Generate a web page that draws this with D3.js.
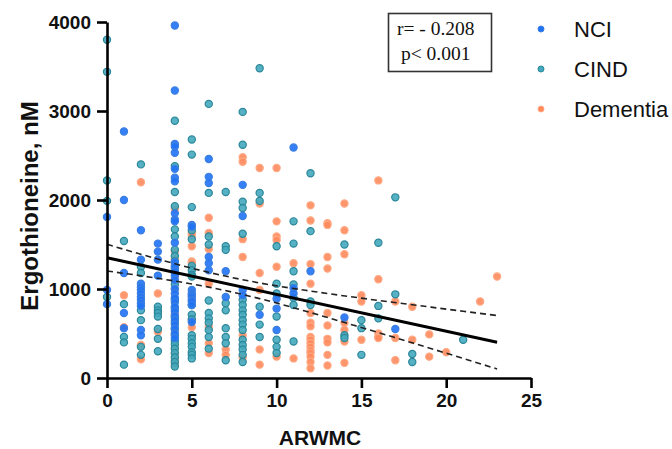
<!DOCTYPE html>
<html>
<head>
<meta charset="utf-8">
<script src="https://cdn.jsdelivr.net/npm/d3@7"></script>
<style>
  body { margin: 0; background: #fff; }
  .axis path, .axis line { stroke: #000; stroke-width: 2.6; }
  .axis text { font-family: "Liberation Sans", Arial, sans-serif; font-weight: bold; font-size: 19px; fill: #111; }
</style>
</head>
<body>
<div id="plots"></div>
<script>
// chart size
var width = 672;
var height = 449;

// ARWMC score (x) -> ergothioneine values (y), one entry per column
var nci = [
  [0, [1810, 990, 830]],
  [1, [2770, 2000, 1180, 730, 560]],
  [2, [1660, 1330, 1060, 1020, 990, 950, 910, 880, 840, 810, 540, 480]],
  [3, [1510, 1420, 1330, 1150]],
  [4, [3960, 3230, 2630, 2600, 2530, 2350, 2250, 2210, 1850, 1780, 1760, 1520, 1300, 1250, 1200, 1150, 1100, 1000, 950, 900, 850, 800, 750, 700, 650, 600, 550, 500, 450]],
  [5, [1720, 1700, 990, 950, 930, 910, 880, 860, 820, 630]],
  [6, [2460, 2260, 2190, 1360, 1290, 1210]],
  [7, [1200, 910]],
  [8, [2170, 1820, 990, 930]],
  [9, [710]],
  [10, [890, 780, 540]],
  [11, [2590, 1010, 950]],
  [12, [1200]],
  [14, [680]],
  [17, [550]]
];

var cind = [
  [0, [3800, 3440, 2220, 1990, 910]],
  [1, [1540, 830, 460, 400, 150]],
  [2, [2400, 1250, 1180, 760, 650, 350, 260]],
  [3, [800, 760, 730, 690, 550, 440, 300]],
  [4, [2890, 2380, 2090, 1930, 1670, 1590, 1440, 1370, 1310, 1230, 1180, 1050, 880, 780, 680, 620, 560, 480, 420, 380, 330, 280, 230, 180, 130]],
  [5, [2680, 2510, 1920, 1660, 1560, 1260, 1210, 1160, 1140, 820, 710, 660, 480, 440, 390, 350, 290, 260, 220]],
  [6, [3080, 2080, 1590, 1500, 870, 730, 670, 620, 540, 460, 330]],
  [7, [2090, 1480, 1440, 840, 760, 560, 460, 390, 200]],
  [8, [2990, 2620, 1980, 1910, 1620, 880, 820, 760, 710, 650, 600, 540, 430, 370, 320, 260, 180]],
  [9, [3480, 2080, 1990, 800, 600, 460]],
  [10, [1480, 1060, 950, 690, 430, 350, 280]],
  [11, [1760, 1510, 1200, 1050, 900, 820, 410]],
  [12, [2300, 1650, 860, 820]],
  [14, [1500, 480, 450]],
  [15, [650, 560, 260]],
  [16, [1520, 810, 670]],
  [17, [2030, 940]],
  [18, [270, 180]],
  [21, [430]]
];

var dementia = [
  [1, [930, 570]],
  [2, [2200, 370, 210]],
  [3, [950, 520]],
  [4, [1900, 1420, 1340, 1270, 1120, 1000, 720, 530, 340, 270, 200, 150]],
  [5, [1630, 1600, 1480, 1310, 1290, 650, 570]],
  [6, [1800, 1630, 1450, 1060, 580, 390, 280]],
  [7, [320, 260]],
  [8, [2480, 2430, 1560, 1360, 480, 230]],
  [9, [2360, 1960, 1180, 990, 320, 150]],
  [10, [2360, 1760, 1590, 1550, 1250, 240]],
  [11, [1290, 220]],
  [12, [1940, 1770, 1280, 1060, 730, 620, 580, 460, 430, 390, 350, 310, 280, 240, 180, 110]],
  [13, [1740, 1720, 1360, 1230, 730, 590, 440, 400, 260, 140]],
  [14, [1960, 1660, 1390, 620, 540, 410, 170]],
  [15, [930, 860, 430]],
  [16, [2220, 1110, 500, 460, 450]],
  [17, [860, 450, 200]],
  [18, [800, 430]],
  [19, [490, 240]],
  [20, [290]],
  [22, [860]],
  [23, [1140]]
];

// regression line and 95% confidence band
var fitX = [0, 23];
var fitY = [1352, 402];
var ciX = [0, 3, 6, 9, 12, 15, 18, 21, 23];
var ciUpper = [1502, 1336, 1187, 1068, 977, 897, 823, 750, 702];
var ciLower = [1202, 1120, 1021, 892, 735, 567, 395, 220, 102];

// ticks
var xTicks = [0, 5, 10, 15, 20, 25];
var yTicks = [0, 1000, 2000, 3000, 4000];

var groups = [
  {name: "NCI", data: nci, fill: "#1f72f5", stroke: "#3b7ee0"},
  {name: "CIND", data: cind, fill: "#43a9bd", stroke: "#2b8799"},
  {name: "Dementia", data: dementia, fill: "#ff8a5c", stroke: "#ffa883"}
];

var svg = d3.select("#plots")
  .append("svg")
  .attr("width", width)
  .attr("height", height);

var x = d3.scaleLinear().domain([0, 25]).range([107, 531]);
var y = d3.scaleLinear().domain([0, 4000]).range([378, 22]);

// points, dementia drawn first so blue sits on top
var order = [2, 1, 0];
order.forEach(function(gi) {
  var g = groups[gi];
  var pts = [];
  g.data.forEach(function(col) {
    col[1].forEach(function(v) { pts.push({x: col[0], y: v}); });
  });
  svg.append("g")
    .selectAll("circle")
    .data(pts)
    .enter()
    .append("circle")
    .attr("cx", function(d) { return x(d.x); })
    .attr("cy", function(d) { return y(d.y); })
    .attr("r", 3.6)
    .attr("fill", g.fill)
    .attr("stroke", g.stroke)
    .attr("stroke-width", 1.2)
    .attr("fill-opacity", 0.9);
});

// fit line
var line = d3.line()
  .x(function(d) { return x(d[0]); })
  .y(function(d) { return y(d[1]); });

svg.append("path")
  .attr("d", line(d3.zip(fitX, fitY)))
  .attr("fill", "none")
  .attr("stroke", "#000")
  .attr("stroke-width", 3);

var curve = d3.line()
  .curve(d3.curveMonotoneX)
  .x(function(d) { return x(d[0]); })
  .y(function(d) { return y(d[1]); });

[ciUpper, ciLower].forEach(function(band) {
  svg.append("path")
    .attr("d", curve(d3.zip(ciX, band)))
    .attr("fill", "none")
    .attr("stroke", "#222")
    .attr("stroke-width", 1.6)
    .attr("stroke-dasharray", "6,4");
});

// axes
svg.append("g")
  .attr("class", "axis")
  .attr("transform", "translate(0," + y(0) + ")")
  .call(d3.axisBottom(x).tickValues(xTicks).tickFormat(d3.format("d"))
    .tickSize(10).tickPadding(6).tickSizeOuter(0));

svg.append("g")
  .attr("class", "axis")
  .attr("transform", "translate(" + x(0) + ",0)")
  .call(d3.axisLeft(y).tickValues(yTicks).tickFormat(d3.format("d"))
    .tickSize(10).tickPadding(6).tickSizeOuter(0));

// axis titles
svg.append("text")
  .text("ARWMC")
  .attr("x", x(12.5) + 1)
  .attr("y", 445)
  .attr("text-anchor", "middle")
  .attr("font-family", "Liberation Sans, Arial, sans-serif")
  .attr("font-weight", "bold")
  .attr("font-size", 21)
  .attr("fill", "#111");

svg.append("text")
  .text("Ergothioneine, nM")
  .attr("transform", "translate(38,206) rotate(-90)")
  .attr("text-anchor", "middle")
  .attr("font-family", "Liberation Sans, Arial, sans-serif")
  .attr("font-weight", "bold")
  .attr("font-size", 24)
  .attr("fill", "#111");

// stats box
svg.append("rect")
  .attr("x", 388.5)
  .attr("y", 13.5)
  .attr("width", 103)
  .attr("height", 58)
  .attr("fill", "#fff")
  .attr("stroke", "#333")
  .attr("stroke-width", 1.6);

var stats = ["r= - 0.208", "p< 0.001"];
svg.selectAll(".stat")
  .data(stats)
  .enter()
  .append("text")
  .attr("class", "stat")
  .text(function(d) { return d; })
  .attr("x", function(d, i) { return i == 0 ? 397 : 401; })
  .attr("y", function(d, i) { return 35 + i * 25; })
  .attr("font-family", "Liberation Serif, Times New Roman, serif")
  .attr("font-size", 19.5)
  .attr("fill", "#111");

// legend
var legend = svg.selectAll(".legend")
  .data(groups)
  .enter()
  .append("g")
  .attr("class", "legend")
  .attr("transform", function(d, i) { return "translate(541," + (29 + i * 40) + ")"; });

legend.append("circle")
  .attr("r", 3)
  .attr("fill", function(d) { return d.fill; })
  .attr("stroke", function(d) { return d.stroke; })
  .attr("stroke-width", 1);

legend.append("text")
  .text(function(d) { return d.name; })
  .attr("x", 33)
  .attr("y", 8)
  .attr("font-family", "Liberation Sans, Arial, sans-serif")
  .attr("font-size", 22)
  .attr("fill", "#111");
</script>
</body>
</html>
